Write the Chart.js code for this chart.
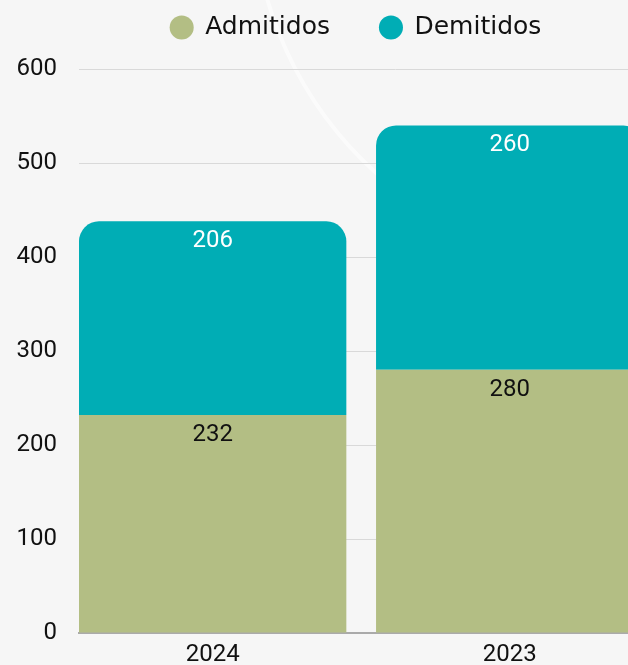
<!DOCTYPE html>
<html>
<head>
<meta charset="utf-8">
<script src="https://cdn.jsdelivr.net/npm/chart.js@4.4.1/dist/chart.umd.min.js"></script>
<style>
  html, body { margin: 0; padding: 0; background: #f6f6f6; overflow: hidden; }
  #wrap { position: relative; width: 712px; height: 680px; }
</style>
</head>
<body>
<div id="wrap"><canvas id="chart"></canvas></div>
<script>
const years = ['2024', '2023'];
const admitidos = [232, 280];
const demitidos = [206, 260];
const yTicks = [0, 100, 200, 300, 400, 500, 600];

const green = '#b3be84';
const teal = '#00adb5';

// faint decorative arc from the background of the original
const backdrop = {
  id: 'backdrop',
  beforeDraw(chart) {
    const ctx = chart.ctx;
    ctx.save();
    ctx.strokeStyle = 'rgba(255,255,255,0.55)';
    ctx.lineWidth = 4;
    ctx.beginPath();
    ctx.arc(630, -107, 378, 0, Math.PI);
    ctx.stroke();
    ctx.restore();
  }
};

// extra room between the legend and the plot
const legendGap = {
  id: 'legendGap',
  afterInit(chart) {
    const fit = chart.legend.fit;
    chart.legend.fit = function () {
      fit.call(this);
      this.height += 19;
    };
  }
};

// value written inside the top of each segment
const valueLabels = {
  id: 'valueLabels',
  afterDatasetsDraw(chart) {
    const ctx = chart.ctx;
    ctx.save();
    ctx.font = '24px Roboto';
    ctx.textAlign = 'center';
    ctx.textBaseline = 'middle';
    chart.data.datasets.forEach((ds, i) => {
      chart.getDatasetMeta(i).data.forEach((bar, j) => {
        ctx.fillStyle = ds.labelColor;
        ctx.fillText(ds.data[j].y, bar.x, bar.y + 20);
      });
    });
    ctx.restore();
  }
};

new Chart('chart', {
  type: 'bar',
  data: {
    datasets: [
      {
        label: 'Admitidos',
        data: years.map((y, i) => ({ x: i, y: admitidos[i] })),
        backgroundColor: green,
        borderRadius: 0,
        labelColor: '#111111',
      },
      {
        label: 'Demitidos',
        data: years.map((y, i) => ({ x: i, y: demitidos[i] })),
        backgroundColor: teal,
        borderRadius: 20,
        labelColor: '#ffffff',
      },
    ],
  },
  options: {
    responsive: true,
    maintainAspectRatio: false,
    animation: false,
    categoryPercentage: 1,
    barPercentage: 0.9,
    layout: { padding: { top: -35, right: 0, left: 0, bottom: 0 } },
    scales: {
      x: {
        type: 'linear',
        stacked: true,
        offset: false,
        min: -0.45,
        max: 1.681,
        grid: { display: false, drawTicks: false, offset: false },
        border: { display: true, color: '#aaaaaa', width: 2 },
        afterBuildTicks: (scale) => {
          scale.ticks = years.map((y, i) => ({ value: i }));
        },
        afterFit: (scale) => { scale.height = 47; },
        ticks: {
          padding: 8,
          color: '#111111',
          font: { family: 'Roboto', size: 24 },
          callback: (value) => years[value],
        },
      },
      y: {
        stacked: true,
        min: yTicks[0],
        max: yTicks[yTicks.length - 1],
        afterBuildTicks: (scale) => {
          scale.ticks = yTicks.map((v) => ({ value: v }));
        },
        afterFit: (scale) => { scale.width = 79; },
        grid: { color: '#d9d9d9', drawTicks: false },
        border: { display: false },
        ticks: {
          padding: 22,
          color: '#111111',
          font: { family: 'Roboto', size: 24 },
        },
      },
    },
    plugins: {
      legend: {
        position: 'top',
        labels: {
          usePointStyle: true,
          pointStyle: 'circle',
          boxWidth: 22,
          boxHeight: 17,
          padding: 50,
          color: '#111111',
          font: { family: 'DejaVu Sans', size: 25 },
        },
      },
      tooltip: { enabled: false },
    },
  },
  plugins: [backdrop, legendGap, valueLabels],
});
</script>
</body>
</html>
